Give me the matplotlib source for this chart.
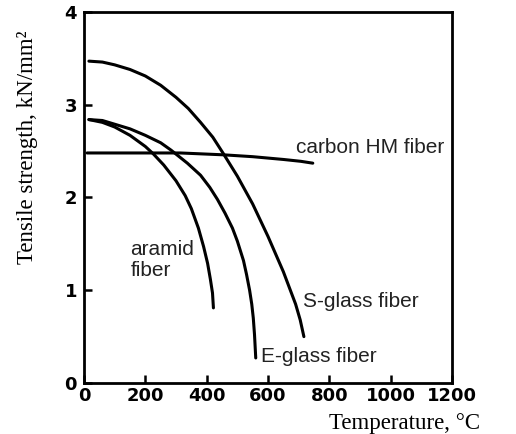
"""Tensile strength of reinforcing fibres versus temperature."""

import matplotlib
matplotlib.use("Agg")
import matplotlib.pyplot as plt

# curve points read as (temperature in degC, strength in kN/mm^2)
s_glass_t = [16, 60, 100, 150, 200, 250, 300, 340, 380, 420, 455, 500,
             550, 600, 650, 690, 705, 717]
s_glass_v = [3.47, 3.46, 3.43, 3.38, 3.31, 3.21, 3.08, 2.96, 2.81, 2.65,
             2.47, 2.23, 1.93, 1.58, 1.20, 0.85, 0.68, 0.50]

e_glass_t = [16, 60, 100, 150, 200, 250, 284, 337, 380, 410, 435, 460,
             484, 500, 520, 530, 540, 547, 552, 556, 560]
e_glass_v = [2.84, 2.83, 2.79, 2.74, 2.67, 2.59, 2.51, 2.37, 2.24, 2.11,
             1.98, 1.83, 1.67, 1.53, 1.32, 1.17, 1.00, 0.85, 0.70, 0.52, 0.27]

aramid_t = [16, 60, 100, 150, 200, 226, 260, 300, 330, 350, 373, 390,
            403, 412, 419, 422]
aramid_v = [2.84, 2.81, 2.76, 2.67, 2.55, 2.47, 2.35, 2.18, 2.02, 1.88,
            1.67, 1.47, 1.29, 1.12, 0.97, 0.81]

carbon_t = [10, 200, 314, 455, 550, 650, 707, 746]
carbon_v = [2.48, 2.48, 2.48, 2.46, 2.44, 2.41, 2.39, 2.37]

x_ticks = [0, 200, 400, 600, 800, 1000, 1200]
y_ticks = [0, 1, 2, 3, 4]

TICK_FONT = ["DejaVu Sans"]
NOTE_FONT = ["Liberation Sans", "DejaVu Sans"]
LABEL_FONT = ["Liberation Serif", "DejaVu Serif"]

fig = plt.figure(figsize=(5.16, 4.34), dpi=100)
ax = fig.add_axes([0.1628, 0.1175, 0.7132, 0.8549])

lw = 2.2
for t, v in [(s_glass_t, s_glass_v), (e_glass_t, e_glass_v),
             (aramid_t, aramid_v), (carbon_t, carbon_v)]:
    ax.plot(t, v, color="black", lw=lw, solid_capstyle="round",
            solid_joinstyle="round")

ax.set_xlim(0, 1200)
ax.set_ylim(0, 4)
ax.set_xticks(x_ticks)
ax.set_yticks(y_ticks)
ax.set_xticklabels([str(t) for t in x_ticks])
ax.set_yticklabels([str(t) for t in y_ticks])

for lab in ax.get_xticklabels() + ax.get_yticklabels():
    lab.set_family(TICK_FONT)
    lab.set_fontweight("bold")
    lab.set_fontsize(13)

ax.tick_params(direction="in", length=6, width=1.8)
ax.tick_params(axis="x", pad=3)
ax.tick_params(axis="y", pad=5)
for sp in ax.spines.values():
    sp.set_linewidth(2.0)

# curve labels
note = dict(family=NOTE_FONT, fontsize=15, color="#222222")
ax.text(691, 2.48, "carbon HM fiber", va="baseline", ha="left", **note)
ax.text(714, 0.82, "S-glass fiber", va="baseline", ha="left", **note)
ax.text(576, 0.23, "E-glass fiber", va="baseline", ha="left", **note)
ax.text(151, 1.54, "aramid\nfiber", va="top", ha="left",
        linespacing=1.15, **note)

fig.text(0.930, 0.012, "Temperature, °C", ha="right", va="baseline",
         family=LABEL_FONT, fontsize=16.5)
fig.text(0.054, 0.661, "Tensile strength, kN/mm²", ha="center",
         va="center", rotation=90, family=LABEL_FONT, fontsize=16.5)

fig.savefig("out.png", dpi=100)
